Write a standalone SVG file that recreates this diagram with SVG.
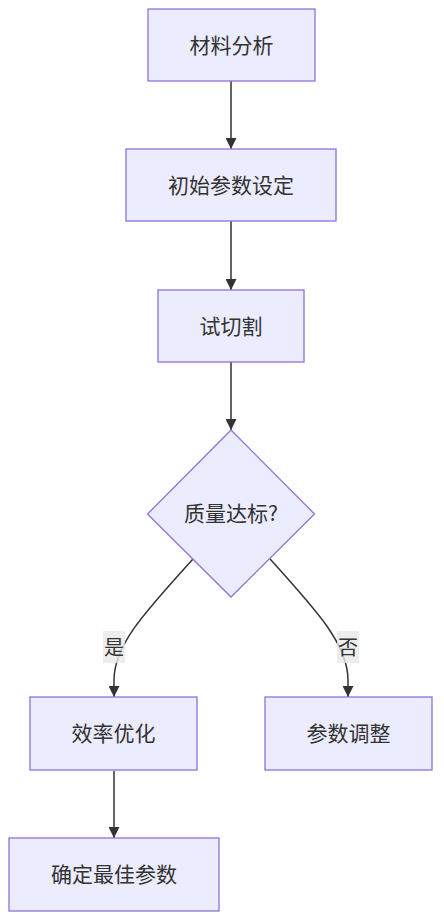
<svg xmlns="http://www.w3.org/2000/svg" width="444" height="921" viewBox="0 0 444 921">
<style>
.node rect,.node polygon{fill:#ECECFF;stroke:#9370DB;stroke-width:1.3px}
.node text{font-family:"Noto Sans CJK SC","Liberation Sans",sans-serif;font-size:21px;fill:#333;text-anchor:middle;dominant-baseline:central}
.edge{fill:none;stroke:#333;stroke-width:1.5px}
.lbl rect{fill:#e8e8e8;opacity:0.8}
.lbl text{font-family:"Noto Sans CJK SC","Liberation Sans",sans-serif;font-size:20px;fill:#333;text-anchor:middle;dominant-baseline:central}
</style>
<defs>
<marker id="arrow" markerUnits="userSpaceOnUse" markerWidth="11" markerHeight="11" viewBox="0 0 10 10" refX="10" refY="5" orient="auto">
<path d="M0,0 L10,5 L0,10 z" fill="#333"/>
</marker>
</defs>
<rect width="444" height="921" fill="#fff"/>
<g id="connectors">
<path class="edge" d="M231,81 L231,149" marker-end="url(#arrow)"/>
<path class="edge" d="M231,221 L231,290" marker-end="url(#arrow)"/>
<path class="edge" d="M231,362 L231,430" marker-end="url(#arrow)"/>
<path class="edge" d="M193,559 C145,612 114,645 114,680 L114,697" marker-end="url(#arrow)"/>
<path class="edge" d="M270,559 C318,612 348,645 348,680 L348,697" marker-end="url(#arrow)"/>
<g class="lbl"><rect x="103" y="631" width="22" height="32"/><text x="114" y="646">是</text></g>
<g class="lbl"><rect x="337" y="631" width="22" height="32"/><text x="348" y="646">否</text></g>
<path class="edge" d="M114,771 L114,838" marker-end="url(#arrow)"/>
</g>
<g id="n1" class="node"><rect x="148" y="9" width="167" height="72"/><text x="231.5" y="44">材料分析</text></g>
<g id="n2" class="node"><rect x="126" y="149" width="210" height="72"/><text x="231" y="184">初始参数设定</text></g>
<g id="n3" class="node"><rect x="158" y="290" width="146" height="72"/><text x="231" y="325">试切割</text></g>
<g id="n4" class="node"><polygon points="231,430 314.5,514 231,597 147.5,514"/><text x="231" y="512">质量达标?</text></g>
<g id="n5" class="node"><rect x="30" y="697" width="167" height="73"/><text x="113.5" y="732">效率优化</text></g>
<g id="n6" class="node"><rect x="265" y="697" width="167" height="73"/><text x="348.5" y="732">参数调整</text></g>
<g id="n7" class="node"><rect x="9" y="838" width="210" height="73"/><text x="114" y="873">确定最佳参数</text></g>
</svg>
